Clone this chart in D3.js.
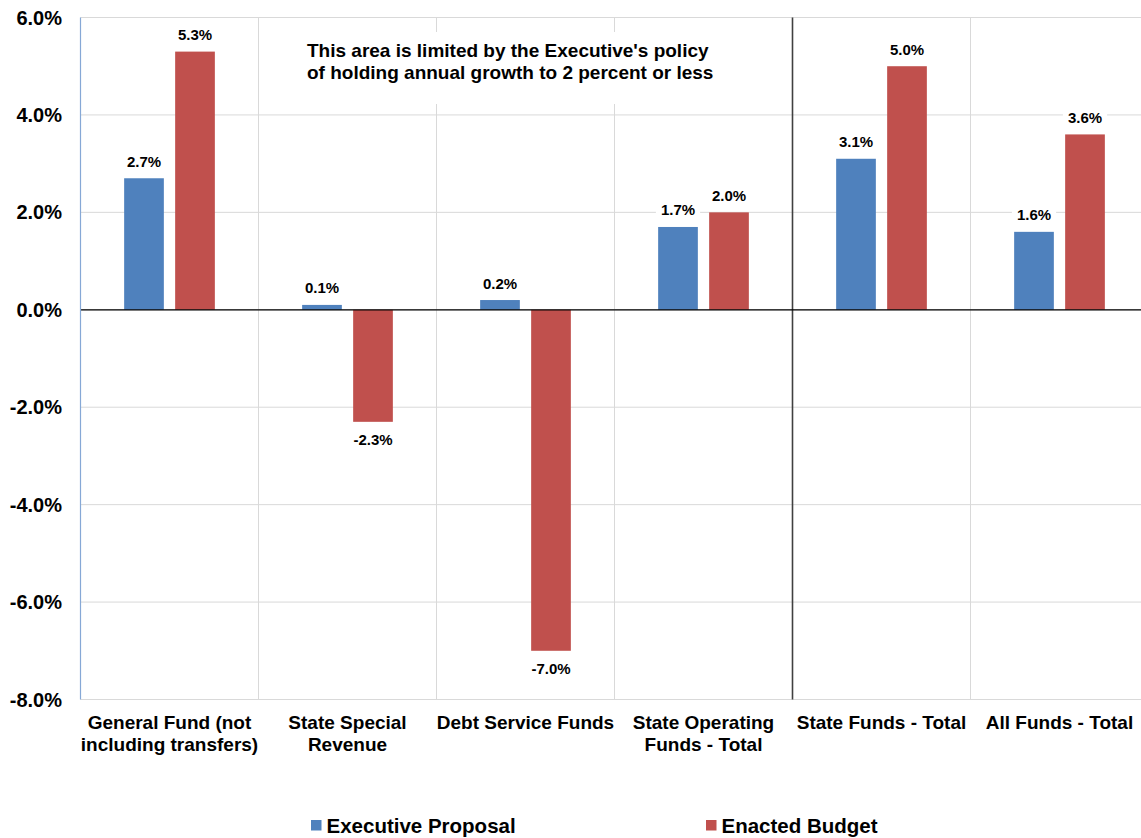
<!DOCTYPE html>
<html>
<head>
<meta charset="utf-8">
<script src="https://cdn.jsdelivr.net/npm/d3@7"></script>
<style>
  html, body { margin: 0; padding: 0; background: #ffffff; }
  svg { display: block; font-family: "Liberation Sans", Arial, Helvetica, sans-serif; font-weight: bold; }
</style>
</head>
<body>
<svg id="chart" width="1141" height="838"></svg>
<script>
// Annual growth by fund group, percent
const categories = [
  ["General Fund (not", "including transfers)"],
  ["State Special", "Revenue"],
  ["Debt Service Funds"],
  ["State Operating", "Funds - Total"],
  ["State Funds - Total"],
  ["All Funds - Total"]
];
const seriesNames = ["Executive Proposal", "Enacted Budget"];
const executiveProposal = [2.7, 0.1, 0.2, 1.7, 3.1, 1.6];
const enactedBudget = [5.3, -2.3, -7.0, 2.0, 5.0, 3.6];
const seriesColors = ["#4f81bd", "#c0504d"];
const yTicks = [-8, -6, -4, -2, 0, 2, 4, 6];
const noteLines = [
  "This area is limited by the Executive's policy",
  "of holding annual growth to 2 percent or less"
];

const svg = d3.select("#chart");
const W = 1141;
const plot = { left: 80.5, right: 1148.5, top: 17.5, bottom: 699.5 };

const keys = categories.map((c, i) => i);
const x = d3.scaleBand().domain(keys).range([plot.left, plot.right]).padding(0);
const xs = d3.scaleBand().domain([0, 1]).range([43.65, x.bandwidth() - 43.65]).paddingInner(0.2216);
const y = d3.scaleLinear().domain([-8, 6]).range([plot.bottom, plot.top]);

// horizontal gridlines
svg.append("g")
  .selectAll("line")
  .data(yTicks)
  .join("line")
  .attr("x1", plot.left).attr("x2", W)
  .attr("y1", d => y(d)).attr("y2", d => y(d))
  .attr("stroke", "#d9d9d9").attr("stroke-width", 1);

// vertical category separators
svg.append("g")
  .selectAll("line")
  .data(keys.slice(1))
  .join("line")
  .attr("x1", d => x(d)).attr("x2", d => x(d))
  .attr("y1", plot.top).attr("y2", plot.bottom)
  .attr("stroke", d => d === 4 ? "#404040" : "#d9d9d9")
  .attr("stroke-width", d => d === 4 ? 1.6 : 1);

// annotation box over the policy-limited region
const note = svg.append("g");
note.append("rect")
  .attr("x", 296).attr("y", 32).attr("width", 432).attr("height", 72)
  .attr("fill", "#ffffff");
note.selectAll("text")
  .data(noteLines)
  .join("text")
  .attr("x", 307)
  .attr("y", (d, i) => 57 + i * 22)
  .attr("font-size", 19)
  .attr("fill", "#000")
  .text(d => d);

// bars
const seriesData = [executiveProposal, enactedBudget];
const bars = [];
seriesData.forEach((vals, s) => {
  vals.forEach((v, i) => bars.push({ s, i, v }));
});

svg.append("g")
  .selectAll("rect")
  .data(bars)
  .join("rect")
  .attr("x", d => x(d.i) + xs(d.s))
  .attr("width", xs.bandwidth())
  .attr("y", d => y(Math.max(0, d.v)))
  .attr("height", d => Math.abs(y(d.v) - y(0)))
  .attr("fill", d => seriesColors[d.s]);

// zero line
svg.append("line")
  .attr("x1", plot.left).attr("x2", W)
  .attr("y1", y(0)).attr("y2", y(0))
  .attr("stroke", "#000").attr("stroke-width", 1.2);

// left axis line
svg.append("line")
  .attr("x1", plot.left).attr("x2", plot.left)
  .attr("y1", plot.top).attr("y2", plot.bottom)
  .attr("stroke", "#86a8d6").attr("stroke-width", 1.2);

// value labels with white backing
const fmt = v => v.toFixed(1) + "%";
const lblG = svg.append("g");
bars.forEach(d => {
  const cx = x(d.i) + xs(d.s) + xs.bandwidth() / 2;
  const by = d.v >= 0 ? y(d.v) - 11.5 : y(d.v) + 23;
  const g = lblG.append("g");
  const bg = g.append("rect").attr("fill", "#ffffff");
  const t = g.append("text")
    .attr("x", cx).attr("y", by)
    .attr("text-anchor", "middle")
    .attr("font-size", 15)
    .attr("fill", "#000")
    .text(fmt(d.v));
  const bb = t.node().getBBox();
  bg.attr("x", bb.x - 5).attr("y", bb.y - 1)
    .attr("width", bb.width + 10).attr("height", bb.height + 2);
});

// y-axis tick labels
svg.append("g")
  .selectAll("text")
  .data(yTicks)
  .join("text")
  .attr("x", 62)
  .attr("y", d => y(d) + 7)
  .attr("text-anchor", "end")
  .attr("font-size", 20)
  .attr("fill", "#000")
  .text(d => d.toFixed(1) + "%");

// category labels
const catG = svg.append("g");
categories.forEach((lines, i) => {
  const t = catG.append("text")
    .attr("x", x(i) + x.bandwidth() / 2)
    .attr("y", 729)
    .attr("text-anchor", "middle")
    .attr("font-size", 19)
    .attr("fill", "#000");
  lines.forEach((ln, j) => {
    t.append("tspan")
      .attr("x", x(i) + x.bandwidth() / 2)
      .attr("dy", j === 0 ? 0 : 21.5)
      .text(ln);
  });
});

// legend
const legendX = [311, 706];
const leg = svg.append("g");
seriesNames.forEach((name, s) => {
  leg.append("rect")
    .attr("x", legendX[s]).attr("y", 820)
    .attr("width", 10.5).attr("height", 10.5)
    .attr("fill", seriesColors[s]);
  leg.append("text")
    .attr("x", legendX[s] + 15.5)
    .attr("y", 832.5)
    .attr("font-size", 20.5)
    .attr("fill", "#000")
    .text(name);
});
</script>
</body>
</html>
